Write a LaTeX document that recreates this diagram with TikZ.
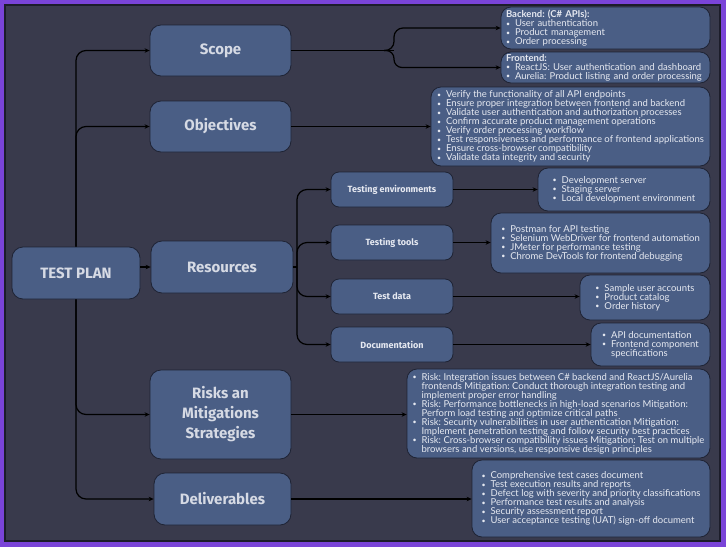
\documentclass[tikz,border=0pt]{standalone}
\usepackage{fontspec}
\setmainfont{Lato}
\newfontfamily\headf{Fira Sans}
\usetikzlibrary{arrows.meta,calc}
\definecolor{bgc}{HTML}{393A4C}
\definecolor{purp}{HTML}{7A44D8}
\definecolor{framedark}{HTML}{1C1D2A}
\definecolor{boxfill}{HTML}{4A5E85}
\definecolor{boxedge}{HTML}{1E2334}
\definecolor{headtxt}{HTML}{D6DAE4}
\definecolor{listtxt}{HTML}{E6E9F1}
\newcommand{\bl}[1]{\makebox[9pt][l]{\raisebox{0.3pt}{\fontsize{7}{7}\selectfont\textbullet}}#1}
\newcommand{\cl}[1]{\hspace*{9pt}#1}
\newcommand{\nohyph}{\hyphenpenalty=10000\relax}
\frenchspacing
\tikzset{
  basebox/.style={draw=boxedge, fill=boxfill, line width=0.8pt, inner sep=0pt},
  mainbox/.style={basebox, rounded corners=11pt, text=headtxt, align=center,
    font=\headf\bfseries\fontsize{15}{20}\selectfont},
  subbox/.style={basebox, rounded corners=8pt, text=listtxt, align=center,
    font=\headf\bfseries\fontsize{9}{11}\selectfont},
  listbox/.style={basebox, rounded corners=10pt, text=listtxt, align=left,
    font=\frenchspacing\nohyph\fontsize{9.5}{9}\selectfont},
  arr/.style={draw=black, line width=1.2pt, -{Stealth[length=5pt,width=4.5pt]}},
  conn/.style={draw=black, line width=1.2pt}
}
\begin{document}
\begin{tikzpicture}[x=1pt,y=-1pt]
\useasboundingbox (0,0) rectangle (726,547);
\fill[purp] (0,0) rectangle (726,547);
\filldraw[fill=bgc, draw=framedark, line width=1.5pt] (5,5) rectangle (720,541);

% main nodes
\node[mainbox, minimum width=128pt, minimum height=52pt] (tp) at (76,273) {TEST PLAN};
\node[mainbox, minimum width=141pt, minimum height=51pt] (scope) at (220.5,50.5) {Scope};
\node[mainbox, minimum width=141pt, minimum height=51pt] (obj) at (220.5,126.5) {Objectives};
\node[mainbox, minimum width=142pt, minimum height=52pt] (res) at (222,267) {Resources};
\node[mainbox, minimum width=141pt, minimum height=89pt] (risk) at (220.5,414.5) {Risks an\\Mitigations\\Strategies};
\node[mainbox, minimum width=137pt, minimum height=52pt] (deliv) at (222.5,499) {Deliverables};

% sub nodes
\node[subbox, minimum width=122pt, minimum height=35pt] (env) at (392,189.5) {Testing environments};
\node[subbox, minimum width=122pt, minimum height=35pt] (tools) at (392,242.5) {Testing tools};
\node[subbox, minimum width=122pt, minimum height=35pt] (data) at (392,296.5) {Test data};
\node[subbox, minimum width=122pt, minimum height=35pt] (doc) at (392,344.5) {Documentation};

% list boxes
\node[listbox, minimum width=209pt, minimum height=42pt, text width=199pt] (backend) at (605.5,28)
  {\textbf{Backend: (C\# APIs):}\\ \bl{User authentication}\\ \bl{Product management}\\ \bl{Order processing}};
\node[listbox, minimum width=209pt, minimum height=31pt, text width=199pt] (frontend) at (605.5,67.5)
  {\textbf{Frontend:}\\ \bl{ReactJS: User authentication and dashboard}\\ \bl{Aurelia: Product listing and order processing}};
\node[listbox, minimum width=279pt, minimum height=79pt] (objl) at (570.5,126.5)
  {\bl{Verify the functionality of all API endpoints}\\
   \bl{Ensure proper integration between frontend and backend}\\
   \bl{Validate user authentication and authorization processes}\\
   \bl{Confirm accurate product management operations}\\
   \bl{Verify order processing workflow}\\
   \bl{Test responsiveness and performance of frontend applications}\\
   \bl{Ensure cross-browser compatibility}\\
   \bl{Validate data integrity and security}};
\node[listbox, minimum width=172pt, minimum height=43pt] (envl) at (624,189.5)
  {\bl{Development server}\\ \bl{Staging server}\\ \bl{Local development environment}};
\node[listbox, minimum width=219pt, minimum height=60pt] (tooll) at (600.5,243)
  {\bl{Postman for API testing}\\ \bl{Selenium WebDriver for frontend automation}\\
   \bl{JMeter for performance testing}\\ \bl{Chrome DevTools for frontend debugging}};
\node[listbox, minimum width=130pt, minimum height=45pt] (datal) at (645,297.5)
  {\bl{Sample user accounts}\\ \bl{Product catalog}\\ \bl{Order history}};
\node[listbox, minimum width=119pt, minimum height=43pt] (docl) at (650.5,344.5)
  {\bl{API documentation}\\ \bl{Frontend component}\\ \cl{specifications}};
\node[listbox, minimum width=303pt, minimum height=89pt] (riskl) at (558.5,413.5)
  {\bl{Risk: Integration issues between C\# backend and ReactJS/Aurelia}\\
   \cl{frontends Mitigation: Conduct thorough integration testing and}\\
   \cl{implement proper error handling}\\
   \bl{Risk: Performance bottlenecks in high-load scenarios Mitigation:}\\
   \cl{Perform load testing and optimize critical paths}\\
   \bl{Risk: Security vulnerabilities in user authentication Mitigation:}\\
   \cl{Implement penetration testing and follow security best practices}\\
   \bl{Risk: Cross-browser compatibility issues Mitigation: Test on multiple}\\
   \cl{browsers and versions, use responsive design principles}};
\node[listbox, minimum width=238pt, minimum height=77pt] (delivl) at (591,498.5)
  {\bl{Comprehensive test cases document}\\ \bl{Test execution results and reports}\\
   \bl{Defect log with severity and priority classifications}\\
   \bl{Performance test results and analysis}\\ \bl{Security assessment report}\\
   \bl{User acceptance testing (UAT) sign-off document}};

% trunk connectors
\draw[arr, rounded corners=10pt] (tp.north) |- (scope.west);
\draw[arr, rounded corners=10pt] (tp.north) |- (obj.west);
\draw[arr] (tp.east |- res.west) -- (res.west);
\draw[arr, rounded corners=10pt] (tp.south) |- (risk.west);
\draw[arr, rounded corners=10pt] (tp.south) |- (deliv.west);

% scope branch
\coordinate (sp) at (394,50.5);
\draw[conn] (scope.east) -- (sp);
\draw[arr, rounded corners=9pt] ($(sp)+(-10,0)$) -- (sp) |- (backend.west);
\draw[arr, rounded corners=8pt] ($(sp)+(-10,0)$) -- (sp) |- (frontend.west);

% objectives
\draw[arr] (obj.east) -- (obj.east -| objl.west);

% resources branch
\coordinate (rj) at (297,267);
\draw[conn] (res.east) -- (rj);
\draw[arr, rounded corners=10pt] (rj) |- (env.west);
\draw[arr, rounded corners=10pt] (rj) |- (tools.west);
\draw[arr, rounded corners=10pt] (rj) |- (data.west);
\draw[arr, rounded corners=10pt] (rj) |- (doc.west);

\draw[arr] (env.east) -- (env.east -| envl.west);
\draw[arr] (tools.east) -- (tools.east -| tooll.west);
\draw[arr] (data.east) -- (data.east -| datal.west);
\draw[arr] (doc.east) -- (doc.east -| docl.west);

\draw[arr] (risk.east) -- (risk.east -| riskl.west);
\draw[arr] (deliv.east) -- (deliv.east -| delivl.west);
\end{tikzpicture}
\end{document}
